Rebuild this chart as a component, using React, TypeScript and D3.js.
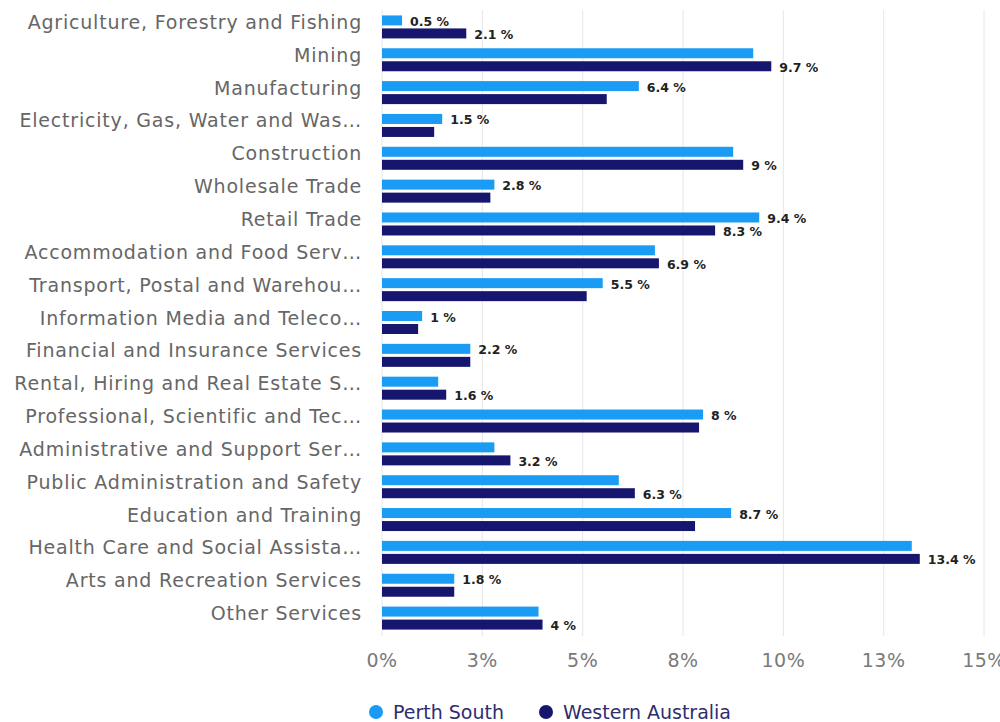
import * as d3 from "d3";

const categories = [
  "Agriculture, Forestry and Fishing",
  "Mining",
  "Manufacturing",
  "Electricity, Gas, Water and Was...",
  "Construction",
  "Wholesale Trade",
  "Retail Trade",
  "Accommodation and Food Serv...",
  "Transport, Postal and Warehou...",
  "Information Media and Teleco...",
  "Financial and Insurance Services",
  "Rental, Hiring and Real Estate S...",
  "Professional, Scientific and Tec...",
  "Administrative and Support Ser...",
  "Public Administration and Safety",
  "Education and Training",
  "Health Care and Social Assista...",
  "Arts and Recreation Services",
  "Other Services",
];

const perthSouth = [0.5, 9.25, 6.4, 1.5, 8.75, 2.8, 9.4, 6.8, 5.5, 1.0, 2.2, 1.4, 8.0, 2.8, 5.9, 8.7, 13.2, 1.8, 3.9];
const westernAustralia = [2.1, 9.7, 5.6, 1.3, 9.0, 2.7, 8.3, 6.9, 5.1, 0.9, 2.2, 1.6, 7.9, 3.2, 6.3, 7.8, 13.4, 1.8, 4.0];

const xTicks = [0, 2.5, 5, 7.5, 10, 12.5, 15];

const seriesNames = ["Perth South", "Western Australia"];
const colors = ["#1a9bf4", "#17166e"];

const FONT = "'DejaVu Sans', Verdana, sans-serif";

// rough text measurement for the overlap check
let ctx: CanvasRenderingContext2D | null = null;
function textWidth(s: string, font: string) {
  if (!ctx) ctx = document.createElement("canvas").getContext("2d");
  if (!ctx) return s.length * 7;
  ctx.font = font;
  return ctx.measureText(s).width;
}

const fmt = (v: number) => `${+v.toFixed(1)} %`;

const App = () => {
  const width = 1000;
  const height = 722;

  const x = d3.scaleLinear().domain([0, 15]).range([382, 984]);
  const y = d3.scaleBand<string>().domain(categories).range([10.5, 634.5]);

  const barH = 10;
  const offset = 6.5;
  const labelFont = `bold 12px ${FONT}`;

  // labels: when two labels in a row collide, keep the bigger value
  const labels: { x: number; y: number; text: string; show: boolean }[] = [];
  categories.forEach((c, i) => {
    const cy = (y(c) ?? 0) + y.bandwidth() / 2;
    const vals = [perthSouth[i], westernAustralia[i]];
    const items = vals.map((v, s) => {
      const text = fmt(v);
      const lx = x(v) + 8;
      return { x: lx, y: cy + (s === 0 ? -offset : offset), text, w: textWidth(text, labelFont), v, show: true };
    });
    const [a, b] = items;
    const overlap = a.x < b.x + b.w + 3 && b.x < a.x + a.w + 3;
    if (overlap) {
      if (b.v > a.v) a.show = false;
      else b.show = false;
    }
    items.forEach((it) => labels.push({ x: it.x, y: it.y, text: it.text, show: it.show }));
  });

  return (
    <svg
      width={width}
      height={height}
      style={{ position: "absolute", left: 0, top: 0, background: "#fff" }}
      fontFamily={FONT}
    >
      {/* grid */}
      {xTicks.map((t) => (
        <line key={t} x1={x(t)} x2={x(t)} y1={10} y2={636} stroke="#e6e6e6" strokeWidth={1} />
      ))}

      {/* bars */}
      {categories.map((c, i) => {
        const cy = (y(c) ?? 0) + y.bandwidth() / 2;
        return (
          <g key={c}>
            <rect
              x={x(0)}
              y={cy - offset - barH / 2}
              width={x(perthSouth[i]) - x(0)}
              height={barH}
              fill={colors[0]}
            />
            <rect
              x={x(0)}
              y={cy + offset - barH / 2}
              width={x(westernAustralia[i]) - x(0)}
              height={barH}
              fill={colors[1]}
            />
          </g>
        );
      })}

      {/* data labels */}
      {labels
        .filter((l) => l.show)
        .map((l, i) => (
          <text
            key={i}
            x={l.x}
            y={l.y + 1}
            dominantBaseline="central"
            fontSize={12.5}
            fontWeight="bold"
            fill="#222"
          >
            {l.text}
          </text>
        ))}

      {/* category labels */}
      {categories.map((c) => (
        <text
          key={c}
          x={362}
          y={(y(c) ?? 0) + y.bandwidth() / 2 - 5}
          dominantBaseline="central"
          textAnchor="end"
          fontSize={19}
          letterSpacing={0.8}
          fill="#666"
        >
          {c.replace("...", "…")}
        </text>
      ))}

      {/* x tick labels */}
      {xTicks.map((t) => (
        <text
          key={t}
          x={x(t)}
          y={660}
          dominantBaseline="central"
          textAnchor="middle"
          fontSize={19}
          letterSpacing={0.5}
          fill="#7a7a7a"
        >
          {Math.round(t)}%
        </text>
      ))}

      {/* legend */}
      {seriesNames.map((s, i) => {
        const lx = i === 0 ? 376 : 546;
        return (
          <g key={s}>
            <circle cx={lx} cy={712} r={7} fill={colors[i]} />
            <text x={lx + 17} y={712} dominantBaseline="central" fontSize={19} fill="#2f2d6e">
              {s}
            </text>
          </g>
        );
      })}
    </svg>
  );
};

export default App;
